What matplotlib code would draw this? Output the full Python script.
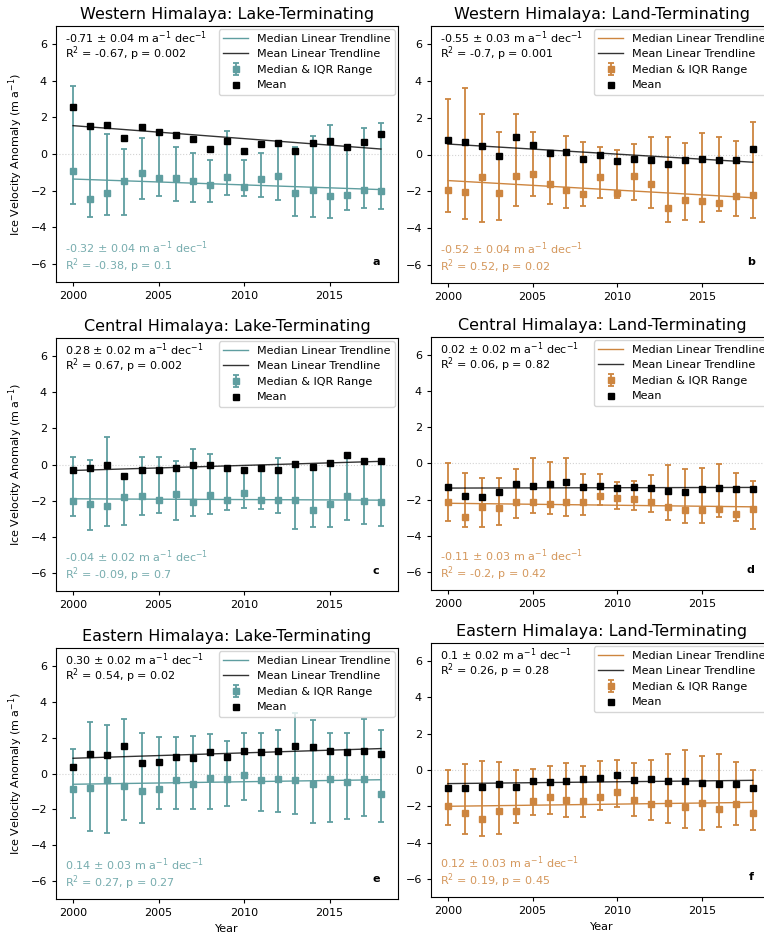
import numpy as np
import matplotlib
matplotlib.use('Agg')
import matplotlib.pyplot as plt

years = np.arange(2000, 2019)

# Western Himalaya, lake-terminating
wh_lake_mean = [2.55, 1.55, 1.6, 0.88, 1.48, 1.2, 1.03, 0.8, 0.28, 0.72, 0.15, 0.57, 0.58, 0.15, 0.6, 0.72, 0.4, 0.68, 1.12]
wh_lake_median = [-0.95, -2.45, -2.15, -1.5, -1.03, -1.32, -1.32, -1.5, -1.7, -1.28, -1.8, -1.35, -1.22, -2.15, -1.98, -2.3, -2.25, -1.95, -2.0]
wh_lake_q1 = [-2.72, -3.45, -3.35, -3.35, -2.45, -2.3, -2.55, -2.62, -2.62, -2.25, -2.28, -2.37, -2.5, -3.37, -3.43, -3.48, -3.08, -2.95, -3.02]
wh_lake_q3 = [3.72, 1.45, 1.07, 0.25, 0.9, 1.05, 0.4, 0.05, -0.33, 1.25, -0.33, 0.05, 0.55, 0.4, 1.0, 1.57, 0.3, 1.43, 1.7]

# Western Himalaya, land-terminating
wh_land_mean = [0.8, 0.68, 0.48, -0.07, 0.97, 0.5, 0.07, 0.13, -0.22, 0.0, -0.37, -0.22, -0.28, -0.5, -0.32, -0.27, -0.32, -0.28, 0.3]
wh_land_median = [-1.95, -2.07, -1.2, -2.1, -1.15, -1.05, -1.62, -1.95, -2.15, -1.23, -2.1, -1.18, -1.62, -2.92, -2.47, -2.52, -2.62, -2.25, -2.2]
wh_land_q1 = [-3.13, -3.52, -3.65, -3.57, -2.78, -2.28, -2.7, -2.9, -2.83, -2.35, -2.38, -2.47, -2.9, -3.65, -3.57, -3.7, -3.1, -3.33, -3.48]
wh_land_q3 = [3.0, 3.62, 2.18, 1.25, 2.2, 1.25, 0.1, 1.02, 0.7, 0.4, 0.25, 0.58, 0.95, 0.96, 0.65, 1.15, 0.95, 0.75, 1.77]

# Central Himalaya, lake-terminating
ch_lake_mean = [-0.3, -0.22, -0.05, -0.63, -0.28, -0.28, -0.22, -0.05, -0.05, -0.22, -0.3, -0.18, -0.32, 0.03, -0.15, 0.07, 0.5, 0.17, 0.17]
ch_lake_median = [-2.03, -2.16, -2.28, -1.8, -1.72, -1.94, -1.62, -2.07, -1.68, -1.94, -1.57, -1.94, -1.98, -1.98, -2.5, -2.16, -1.72, -2.02, -2.07]
ch_lake_q1 = [-2.87, -3.62, -3.42, -3.37, -2.8, -2.66, -3.05, -2.86, -2.75, -2.52, -2.38, -2.49, -2.71, -3.56, -3.45, -3.45, -3.08, -3.27, -3.4]
ch_lake_q3 = [0.44, 0.23, 1.52, -0.6, 0.42, 0.42, 0.22, 0.86, 0.56, -0.2, -0.3, -0.2, 0.35, 0.0, -0.15, 0.05, 0.5, 0.15, 0.15]

# Central Himalaya, land-terminating
ch_land_mean = [-1.3, -1.8, -1.86, -1.57, -1.15, -1.22, -1.15, -1.02, -1.3, -1.22, -1.35, -1.3, -1.35, -1.5, -1.57, -1.43, -1.35, -1.39, -1.43]
ch_land_median = [-2.13, -2.94, -2.4, -2.44, -2.15, -2.15, -2.24, -2.15, -2.15, -1.81, -1.89, -1.96, -2.11, -2.4, -2.56, -2.56, -2.52, -2.81, -2.5]
ch_land_q1 = [-3.2, -3.5, -3.5, -3.39, -3.0, -2.74, -2.81, -2.89, -2.85, -2.31, -2.54, -2.59, -2.7, -3.15, -3.28, -3.28, -2.96, -3.2, -3.63]
ch_land_q3 = [0.02, -0.5, -0.81, -0.8, -0.3, 0.31, 0.09, 0.3, -0.56, -0.57, -1.0, -0.96, -0.61, -0.09, -0.33, -0.24, -0.05, -0.5, -0.96]

# Eastern Himalaya, lake-terminating
eh_lake_mean = [0.35, 1.07, 1.03, 1.52, 0.61, 0.65, 0.94, 0.85, 1.19, 0.91, 1.24, 1.19, 1.24, 1.56, 1.46, 1.24, 1.19, 1.24, 1.06]
eh_lake_median = [-0.87, -0.8, -0.39, -0.69, -1.0, -0.88, -0.37, -0.56, -0.24, -0.3, -0.07, -0.35, -0.3, -0.37, -0.57, -0.3, -0.5, -0.3, -1.15]
eh_lake_q1 = [-2.5, -3.2, -3.33, -2.59, -2.74, -1.96, -1.96, -2.0, -1.96, -1.81, -1.48, -2.11, -2.13, -2.28, -2.74, -2.69, -2.54, -2.35, -2.69]
eh_lake_q3 = [1.35, 2.85, 2.72, 3.02, 2.28, 2.04, 2.04, 2.07, 2.2, 1.81, 2.28, 2.28, 2.43, 3.37, 2.96, 2.26, 2.28, 3.06, 2.41]

# Eastern Himalaya, land-terminating
eh_land_mean = [-0.99, -0.97, -0.95, -0.75, -0.92, -0.59, -0.66, -0.62, -0.5, -0.44, -0.26, -0.55, -0.5, -0.62, -0.62, -0.7, -0.75, -0.75, -1.0]
eh_land_median = [-2.0, -2.39, -2.68, -2.24, -2.24, -1.71, -1.5, -1.65, -1.71, -1.5, -1.21, -1.65, -1.87, -1.82, -2.02, -1.8, -2.15, -1.87, -2.39]
eh_land_q1 = [-3.05, -3.54, -3.64, -3.54, -2.94, -2.5, -2.44, -2.57, -2.59, -2.2, -2.06, -2.55, -2.75, -2.9, -3.19, -3.29, -3.12, -3.03, -3.29]
eh_land_q3 = [0.0, 0.31, 0.51, 0.46, 0.0, 0.06, 0.22, 0.37, 0.22, 0.51, 0.55, 0.39, 0.55, 0.9, 1.12, 0.75, 0.9, 0.46, 0.0]

# trend: slope per decade (as printed) and fitted value at 2000
mean_slope = [-0.71, -0.55, 0.28, 0.02, 0.30, 0.1]
mean_err = ['0.04', '0.03', '0.02', '0.02', '0.02', '0.02']
mean_start = [1.55, 0.57, -0.33, -1.36, 0.85, -0.75]
mean_r2 = ['-0.67', '-0.7', '0.67', '0.06', '0.54', '0.26']
mean_p = ['0.002', '0.001', '0.002', '0.82', '0.02', '0.28']
median_slope = [-0.32, -0.52, -0.04, -0.11, 0.14, 0.12]
median_err = ['0.04', '0.04', '0.02', '0.03', '0.03', '0.03']
median_start = [-1.37, -1.42, -1.9, -2.2, -0.6, -2.0]
median_r2 = ['-0.38', '0.52', '-0.09', '-0.2', '0.27', '0.19']
median_p = ['0.1', '0.02', '0.7', '0.42', '0.27', '0.45']
slope_text = ['-0.71', '-0.55', '0.28', '0.02', '0.30', '0.1']
median_text = ['-0.32', '-0.52', '-0.04', '-0.11', '0.14', '0.12']

titles = ['Western Himalaya: Lake-Terminating', 'Western Himalaya: Land-Terminating',
          'Central Himalaya: Lake-Terminating', 'Central Himalaya: Land-Terminating',
          'Eastern Himalaya: Lake-Terminating', 'Eastern Himalaya: Land-Terminating']
letters = ['a', 'b', 'c', 'd', 'e', 'f']

means = [wh_lake_mean, wh_land_mean, ch_lake_mean, ch_land_mean, eh_lake_mean, eh_land_mean]
medians = [wh_lake_median, wh_land_median, ch_lake_median, ch_land_median, eh_lake_median, eh_land_median]
q1s = [wh_lake_q1, wh_land_q1, ch_lake_q1, ch_land_q1, eh_lake_q1, eh_land_q1]
q3s = [wh_lake_q3, wh_land_q3, ch_lake_q3, ch_land_q3, eh_lake_q3, eh_land_q3]

W, H = 764, 935
# axes boxes in pixels: left, top, right, bottom (right column runs past the edge)
boxes = [(56, 26, 398, 282), (431, 26, 773, 283),
         (56, 338, 398, 591), (431, 337, 773, 590),
         (56, 648, 398, 899), (431, 643, 773, 897)]

UNIT = r' m a$^{-1}$ dec$^{-1}$'


def draw_panel(fig, i):
    l, t, r, b = boxes[i]
    h = float(b - t)
    ax = fig.add_axes([l / float(W), 1 - b / float(H), (r - l) / float(W), h / H])
    col = 'cadetblue' if i % 2 == 0 else 'peru'
    med = np.array(medians[i])
    lo = med - np.array(q1s[i])
    hi = np.array(q3s[i]) - med

    ax.axhline(0, color='lightgray', ls=':', lw=0.8, zorder=0)
    tx = np.array([2000, 2018])
    l1, = ax.plot(tx, median_start[i] + median_slope[i] / 10.0 * (tx - 2000), color=col, lw=1, zorder=2)
    l2, = ax.plot(tx, mean_start[i] + mean_slope[i] / 10.0 * (tx - 2000), color='black', lw=1,
                  alpha=0.8, zorder=4)
    eb = ax.errorbar(years, med, yerr=[lo, hi], fmt='s', color=col, ms=5, capsize=2.5,
                     elinewidth=1.3, capthick=1.3, zorder=3)
    mk, = ax.plot(years, means[i], 's', color='black', ms=5, zorder=5)

    if i % 2 == 0:
        ax.set_xlim(1999, 2019)
    else:
        ax.set_xlim(1999, 2019.2)
    ax.set_ylim(-7, 7)
    ax.set_xticks([2000, 2005, 2010, 2015])
    ax.set_yticks([-6, -4, -2, 0, 2, 4, 6])
    ax.tick_params(labelsize=8, length=3)
    ax.set_title(titles[i], fontsize=11.5, pad=5)

    # trend stats: mean at the top, median at the bottom
    ax.text(0.025, 1 - 17 / h, '%s $\\pm$ %s%s' % (slope_text[i], mean_err[i], UNIT),
            transform=ax.transAxes, fontsize=8, va='baseline', color='black')
    ax.text(0.025, 1 - 32 / h, 'R$^2$ = %s, p = %s' % (mean_r2[i], mean_p[i]),
            transform=ax.transAxes, fontsize=8, va='baseline', color='black')
    ax.text(0.025, 29 / h, '%s $\\pm$ %s%s' % (median_text[i], median_err[i], UNIT),
            transform=ax.transAxes, fontsize=8, va='baseline', color=col, alpha=0.85)
    ax.text(0.025, 12 / h, 'R$^2$ = %s, p = %s' % (median_r2[i], median_p[i]),
            transform=ax.transAxes, fontsize=8, va='baseline', color=col, alpha=0.85)
    ax.text(0.935, 0.08, letters[i], transform=ax.transAxes, fontsize=8, fontweight='bold',
            ha='center', va='center')

    ax.legend([l1, l2, eb, mk],
              ['Median Linear Trendline', 'Mean Linear Trendline', 'Median & IQR Range', 'Mean'],
              loc='upper right', fontsize=8, borderaxespad=0.3, handlelength=2.2)

    if i % 2 == 0:
        ax.set_ylabel(r'Ice Velocity Anomaly (m a$^{-1}$)', fontsize=8)
    if i >= 4:
        ax.set_xlabel('Year', fontsize=8)
    return ax


fig = plt.figure(figsize=(W / 100.0, H / 100.0), dpi=100)
for i in range(6):
    draw_panel(fig, i)
fig.savefig('out.png', dpi=100)
